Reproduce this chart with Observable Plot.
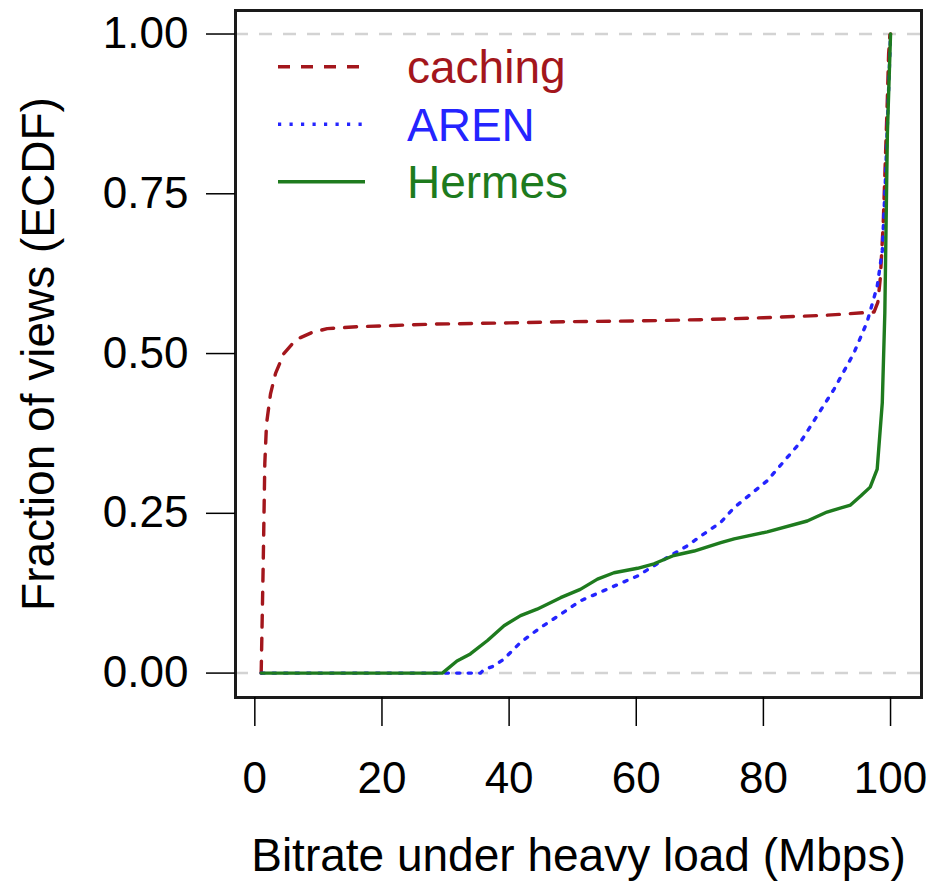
<!DOCTYPE html>
<html>
<head>
<meta charset="utf-8">
<script src="https://cdn.jsdelivr.net/npm/d3@7"></script>
<script src="https://cdn.jsdelivr.net/npm/@observablehq/plot@0.6"></script>
<style>
  html, body { margin: 0; padding: 0; background: #fff; }
  #chart svg { display: block; }
</style>
</head>
<body>
<div id="chart"></div>
<script>
// ---- data ----
const seriesNames = ["caching", "AREN", "Hermes"];
const seriesColors = ["#a3161c", "#2424ff", "#1e7b1e"];
const seriesDash = ["12,11", "3.2,8.3", null];

const cachingX = [1, 1.32, 1.57, 1.84, 2.47, 3.26, 4.56, 5.8, 7.19, 9.0, 11.4, 16.1, 22, 27.7, 40, 50, 60, 70.1, 80, 90, 97.4, 98.0, 98.4, 98.85, 99.2, 99.5, 99.7, 99.9, 100];
const cachingY = [0, 0.171, 0.328, 0.390, 0.437, 0.469, 0.500, 0.514, 0.525, 0.533, 0.539, 0.542, 0.544, 0.546, 0.548, 0.550, 0.551, 0.553, 0.556, 0.560, 0.565, 0.580, 0.619, 0.703, 0.808, 0.899, 0.969, 0.999, 1.0];

const arenX = [1, 10, 20, 30, 35.5, 36.0, 37.6, 39.2, 41.8, 44.9, 48.1, 51.2, 54.9, 60.2, 64.9, 68.0, 70.1, 73.3, 75.4, 80.6, 85.8, 91.1, 94.2, 96.3, 97.9, 98.7, 99.2, 99.7, 100];
const arenY = [0, 0, 0, 0, 0, 0.005, 0.011, 0.022, 0.048, 0.071, 0.092, 0.113, 0.129, 0.152, 0.181, 0.199, 0.214, 0.236, 0.259, 0.301, 0.361, 0.444, 0.500, 0.549, 0.605, 0.661, 0.773, 0.913, 1.0];

const hermesX = [1, 10, 20, 29.5, 31.8, 32.4, 33.9, 36.6, 39.2, 41.8, 44.4, 48.1, 51.2, 53.9, 56.5, 60.2, 62.8, 65.9, 69.1, 73.3, 75.4, 80.6, 86.9, 90.0, 93.7, 95.3, 96.8, 97.9, 98.7, 99.1, 99.5, 100];
const hermesY = [0, 0, 0, 0, 0.019, 0.022, 0.030, 0.051, 0.074, 0.090, 0.100, 0.118, 0.131, 0.147, 0.157, 0.164, 0.171, 0.184, 0.191, 0.204, 0.210, 0.221, 0.238, 0.252, 0.263, 0.277, 0.291, 0.319, 0.423, 0.563, 0.843, 1.0];

const xTicks = [0, 20, 40, 60, 80, 100];
const yTicks = [0, 0.25, 0.5, 0.75, 1];
const refLines = [0, 1];
const xTitle = "Bitrate under heavy load (Mbps)";
const yTitle = "Fraction of views (ECDF)";

// ---- build rows ----
const toRows = (xs, ys) => xs.map((x, i) => ({x, y: ys[i]}));
const series = [toRows(cachingX, cachingY), toRows(arenX, arenY), toRows(hermesX, hermesY)];

const font = "'Liberation Sans', Arial, Helvetica, sans-serif";

const lineMarks = series.map((rows, i) =>
  Plot.line(rows, {
    x: "x", y: "y",
    stroke: seriesColors[i],
    strokeWidth: 3.4,
    strokeDasharray: seriesDash[i] || undefined
  })
);

const chart = Plot.plot({
  width: 933,
  height: 882,
  marginLeft: 235,
  marginRight: 12,
  marginTop: 10,
  marginBottom: 185,
  style: {fontFamily: font, background: "#fff", color: "#000"},
  x: {domain: [-3.04, 104.87], label: null},
  y: {domain: [-0.0382, 1.0368], label: null},
  marks: [
    Plot.ruleY(refLines, {stroke: "#d3d3d3", strokeWidth: 2.5, strokeDasharray: "13,11"}),
    ...lineMarks,
    Plot.frame({stroke: "#1a1a1a", strokeWidth: 3}),
    Plot.axisX(xTicks, {tickSize: 29, tickPadding: 35, fontSize: 44, strokeWidth: 1.5, label: null, tickFormat: d => String(d)}),
    Plot.axisY(yTicks, {tickSize: 29, tickPadding: 18, fontSize: 44, strokeWidth: 1.5, label: null, tickFormat: d3.format(".2f")}),
    Plot.text([xTitle], {text: d => d, frameAnchor: "bottom", textAnchor: "middle", dy: 158.6, fontSize: 46, lineAnchor: "middle", fill: "#000"}),
    Plot.text([yTitle], {text: d => d, frameAnchor: "left", textAnchor: "middle", rotate: -90, dx: -196.7, fontSize: 46, lineAnchor: "middle", fill: "#000"})
  ]
});

// ---- legend (inside the plot box, top-left) ----
const svg = d3.select(chart);
const lg = svg.append("g").attr("class", "legend").attr("text-anchor", "start");
const legendX0 = 278, legendX1 = 365, legendTextX = 407;
const legendY0 = 66.7, legendStep = 57.5;
seriesNames.forEach((name, i) => {
  const y = legendY0 + i * legendStep;
  lg.append("line")
    .attr("x1", legendX0).attr("x2", legendX1)
    .attr("y1", y).attr("y2", y)
    .attr("stroke", seriesColors[i])
    .attr("stroke-width", 3.4)
    .attr("stroke-dasharray", seriesDash[i]);
  lg.append("text")
    .attr("x", legendTextX).attr("y", y)
    .attr("dy", "0.36em")
    .attr("text-anchor", "start")
    .attr("fill", seriesColors[i])
    .attr("font-family", font)
    .attr("font-size", 46)
    .text(name);
});

document.getElementById("chart").appendChild(chart);
</script>
</body>
</html>
